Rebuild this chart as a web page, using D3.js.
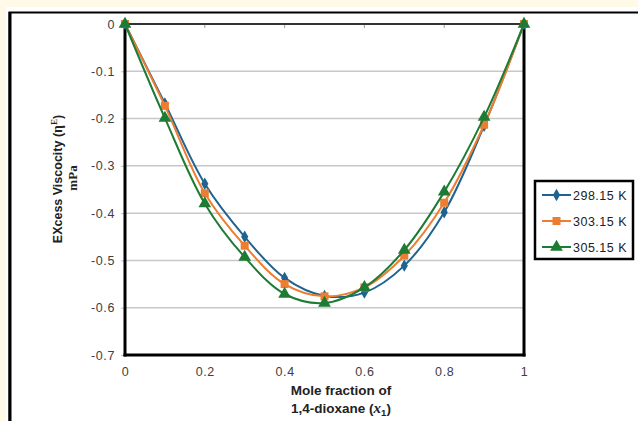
<!DOCTYPE html>
<html>
<head>
<meta charset="utf-8">
<script src="https://cdn.jsdelivr.net/npm/d3@7"></script>
<style>
  body { margin: 0; background: #fffae8; }
  svg { display: block; font-family: "Liberation Sans", Arial, sans-serif; }
  .tick text { fill: #404040; font-size: 12.5px; letter-spacing: 0.6px; }
</style>
</head>
<body>
<div id="chart"></div>
<script>

var xValues = [0, 0.1, 0.2, 0.3, 0.4, 0.5, 0.6, 0.7, 0.8, 0.9, 1];
var visc298 = [0, -0.168, -0.338, -0.45, -0.537, -0.575, -0.568, -0.511, -0.398, -0.215, 0];
var visc303 = [0, -0.173, -0.358, -0.469, -0.55, -0.576, -0.557, -0.49, -0.378, -0.213, 0];
var visc305 = [0, -0.199, -0.38, -0.493, -0.571, -0.59, -0.557, -0.478, -0.355, -0.197, 0];
var seriesNames = ["298.15 K", "303.15 K", "305.15 K"];
var xTicks = [0, 0.2, 0.4, 0.6, 0.8, 1];
var yTicks = [0, -0.1, -0.2, -0.3, -0.4, -0.5, -0.6, -0.7];

var colors = ["#1f6391", "#ed7d31", "#1e7b34"];
var symbols = [d3.symbolDiamond, d3.symbolSquare, d3.symbolTriangle];
var symSizes = [45, 64, 70];

var width = 638, height = 421;
var margin = { left: 125, right: 114, top: 24, bottom: 66 };
var w = width - margin.left - margin.right;
var h = height - margin.top - margin.bottom;

var svg = d3.select("#chart").append("svg")
    .attr("width", width)
    .attr("height", height);

// outer panel
svg.append("rect")
    .attr("x", 6).attr("y", 7)
    .attr("width", 640).attr("height", 420)
    .attr("fill", "#ffffff");
svg.append("rect")
    .attr("x", 9.5).attr("y", 12.5)
    .attr("width", 640).attr("height", 420)
    .attr("fill", "none")
    .attr("stroke", "#000")
    .attr("stroke-width", 2);
svg.append("line")
    .attr("x1", 10).attr("x2", 10).attr("y1", 12).attr("y2", 421)
    .attr("stroke", "#000").attr("stroke-width", 3);

var g = svg.append("g")
    .attr("transform", "translate(" + margin.left + "," + margin.top + ")");

var x = d3.scaleLinear().domain([0, 1]).range([0, w]);
var y = d3.scaleLinear().domain([-0.7, 0]).range([h, 0]);

// gridlines
g.selectAll(".grid")
    .data(yTicks.filter(function(d){ return d !== 0 && d !== -0.7; }))
    .enter().append("line")
    .attr("class", "grid")
    .attr("x1", 0).attr("x2", w)
    .attr("y1", function(d){ return y(d); })
    .attr("y2", function(d){ return y(d); })
    .attr("stroke", "#c8c8c8")
    .attr("stroke-width", 1.5);

// y axis
var yAxis = d3.axisLeft(y).tickValues(yTicks).tickSize(4).tickPadding(6)
    .tickFormat(function(d){ return d === 0 ? "0" : d3.format(".1f")(d).replace("−", "-"); });
var yg = g.append("g").call(yAxis);
yg.select(".domain").remove();
yg.selectAll(".tick line").attr("stroke", "#bfbfbf");

// x axis labels at the bottom
var xAxis = d3.axisBottom(x).tickValues(xTicks).tickSize(0).tickPadding(12)
    .tickFormat(function(d){ return d3.format("")(d); });
var xg = g.append("g").attr("transform", "translate(0," + h + ")").call(xAxis);
xg.select(".domain").remove();

// x tick marks on the top (axis crosses at 0)
g.selectAll(".xtick")
    .data(xTicks.filter(function(d){ return d > 0 && d < 1; }))
    .enter().append("line")
    .attr("x1", function(d){ return x(d); })
    .attr("x2", function(d){ return x(d); })
    .attr("y1", 0).attr("y2", 4)
    .attr("stroke", "#a0a0a0");

// plot frame
g.append("line").attr("x1", 0).attr("x2", w).attr("y1", 0).attr("y2", 0)
    .attr("stroke", "#333").attr("stroke-width", 2);
g.append("line").attr("x1", 0).attr("x2", 0).attr("y1", -1).attr("y2", h + 1.5)
    .attr("stroke", "#000").attr("stroke-width", 3);
g.append("line").attr("x1", -1.5).attr("x2", w + 1.5).attr("y1", h).attr("y2", h)
    .attr("stroke", "#000").attr("stroke-width", 3);
g.append("line").attr("x1", w).attr("x2", w).attr("y1", 0).attr("y2", h + 1.5)
    .attr("stroke", "#000").attr("stroke-width", 3);

// series
var series = [visc298, visc303, visc305].map(function(vals, i){
    return {
        name: seriesNames[i],
        color: colors[i],
        symbol: symbols[i],
        size: symSizes[i],
        points: xValues.map(function(xv, j){ return { x: xv, y: vals[j] }; })
    };
});

var line = d3.line()
    .x(function(d){ return x(d.x); })
    .y(function(d){ return y(d.y); })
    .curve(d3.curveCatmullRom.alpha(0.5));

series.forEach(function(s){
    g.append("path")
        .attr("d", line(s.points))
        .attr("fill", "none")
        .attr("stroke", s.color)
        .attr("stroke-width", 2);
    g.selectAll(null)
        .data(s.points)
        .enter().append("path")
        .attr("transform", function(d){ return "translate(" + x(d.x) + "," + y(d.y) + ")"; })
        .attr("d", d3.symbol().type(s.symbol).size(s.size))
        .attr("fill", s.color);
});

// y axis title
var ytitle = svg.append("text")
    .attr("transform", "translate(62,179) rotate(-90)")
    .attr("text-anchor", "middle")
    .attr("font-weight", "bold")
    .attr("font-size", "12.5px")
    .attr("fill", "#222");
ytitle.append("tspan").text("EXcess Viscocity (");
ytitle.append("tspan").attr("font-family", "Liberation Serif").attr("font-size", "14px").text("η");
ytitle.append("tspan").attr("font-family", "Liberation Serif").attr("font-size", "9px").attr("dy", -5).text("E");
ytitle.append("tspan").attr("dy", 5).text(")");

svg.append("text")
    .attr("transform", "translate(77,178) rotate(-90)")
    .attr("text-anchor", "middle")
    .attr("font-weight", "bold")
    .attr("font-family", "Liberation Serif")
    .attr("font-size", "13px")
    .attr("fill", "#222")
    .text("mPa");

// x axis title
svg.append("text")
    .attr("x", 341).attr("y", 395)
    .attr("text-anchor", "middle")
    .attr("font-weight", "bold")
    .attr("font-size", "13.5px")
    .attr("fill", "#222")
    .text("Mole fraction of");

var xtitle = svg.append("text")
    .attr("x", 341).attr("y", 413)
    .attr("text-anchor", "middle")
    .attr("font-weight", "bold")
    .attr("font-size", "13.5px")
    .attr("fill", "#222");
xtitle.append("tspan").text("1,4-dioxane (");
xtitle.append("tspan").attr("font-family", "Liberation Serif").attr("font-style", "italic").attr("font-size", "15px").text("x");
xtitle.append("tspan").attr("font-size", "9.5px").attr("dy", 3).text("1");
xtitle.append("tspan").attr("dy", -3).text(")");

// legend
var legend = svg.append("g").attr("transform", "translate(535,181)");
legend.append("rect")
    .attr("width", 98).attr("height", 78)
    .attr("fill", "#fff")
    .attr("stroke", "#000")
    .attr("stroke-width", 2.5);

var items = legend.selectAll(".item")
    .data(series).enter().append("g")
    .attr("transform", function(d, i){ return "translate(0," + (14 + i * 26) + ")"; });
items.append("line")
    .attr("x1", 7).attr("x2", 36).attr("y1", 0).attr("y2", 0)
    .attr("stroke", function(d){ return d.color; })
    .attr("stroke-width", 2);
items.append("path")
    .attr("transform", "translate(21.5,0)")
    .attr("d", function(d){ return d3.symbol().type(d.symbol).size(d.size)(); })
    .attr("fill", function(d){ return d.color; });
items.append("text")
    .attr("x", 38).attr("y", 4.5)
    .attr("font-size", "12.5px")
    .attr("letter-spacing", "0.5px")
    .attr("fill", "#222")
    .text(function(d){ return d.name; });

</script>
</body>
</html>
